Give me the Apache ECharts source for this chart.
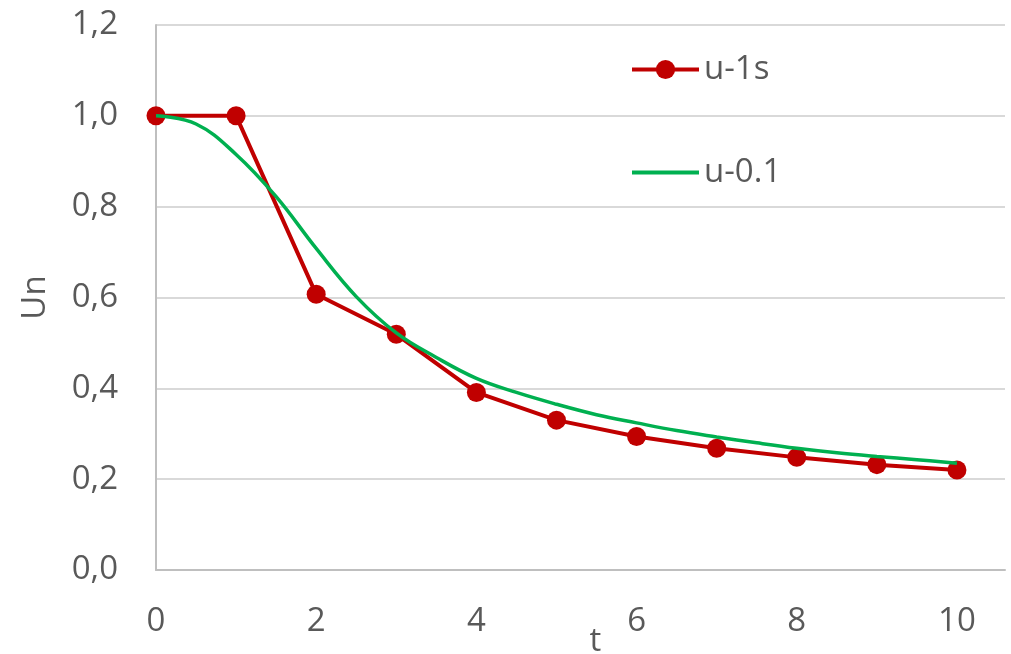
<!DOCTYPE html>
<html>
<head>
<meta charset="utf-8">
<script src="https://cdn.jsdelivr.net/npm/echarts@6/dist/echarts.min.js"></script>
<style>
html,body{margin:0;padding:0;background:#fff;}
#chart{width:1011px;height:654px;}
</style>
</head>
<body>
<div id="chart"></div>
<script>
// Series u-1s (step 1 s)
const t1 = [0, 1, 2, 3, 4, 5, 6, 7, 8, 9, 10];
const u1 = [1.0, 1.0, 0.607, 0.519, 0.391, 0.330, 0.294, 0.268, 0.248, 0.232, 0.220];
// Series u-0.1
const t2 = [0, 0.5, 1.0, 1.5, 2.0, 2.5, 3.0, 3.5, 4.0, 4.5, 5.0, 5.5, 6.0, 6.5, 7.0, 7.5, 8.0, 8.5, 9.0, 9.5, 10];
const u2 = [1.0, 0.982, 0.915, 0.822, 0.708, 0.602, 0.522, 0.468, 0.422, 0.391, 0.365, 0.342, 0.324, 0.307, 0.293, 0.280, 0.268, 0.258, 0.250, 0.243, 0.235];
const seriesNames = ['u-1s', 'u-0.1'];
const xName = 't';
const yName = 'Un';

const FONT = 'Open Sans';
const TXT = '#595959';
const FS = 33;

const chart = echarts.init(document.getElementById('chart'));
chart.setOption({
  animation: false,
  backgroundColor: '#fff',
  textStyle: { fontFamily: FONT },
  grid: { left: 156, right: 6, top: 25, bottom: 84, containLabel: false, outerBoundsMode: 'none' },
  legend: {
    orient: 'vertical',
    left: 625,
    top: 48,
    itemWidth: 67,
    itemHeight: 24,
    itemGap: 70,
    textStyle: { fontFamily: FONT, fontSize: FS, color: TXT },
    data: [
      { name: seriesNames[0], lineStyle: { width: 4 } },
      { name: seriesNames[1], lineStyle: { width: 4 }, itemStyle: { opacity: 0 } }
    ]
  },
  xAxis: {
    type: 'value',
    min: 0,
    max: 10.6,
    interval: 2,
    name: xName,
    nameLocation: 'middle',
    nameGap: 55,
    nameMoveOverlap: false,
    nameTextStyle: { fontFamily: FONT, fontSize: FS, color: TXT, padding: [0, 0, 0, 30] },
    axisLine: { show: true, lineStyle: { color: '#bfbfbf', width: 2 } },
    axisTick: { show: false },
    splitLine: { show: false },
    axisLabel: { fontFamily: FONT, fontSize: FS, color: TXT, margin: 35, showMaxLabel: false,
      formatter: v => (Math.abs(v - Math.round(v)) < 1e-9 ? String(Math.round(v)) : '') }
  },
  yAxis: {
    type: 'value',
    min: 0,
    max: 1.2,
    interval: 0.2,
    name: yName,
    nameLocation: 'middle',
    nameRotate: 90,
    nameGap: 104,
    nameMoveOverlap: false,
    nameTextStyle: { fontFamily: FONT, fontSize: FS, color: TXT },
    axisLine: { show: true, lineStyle: { color: '#bfbfbf', width: 2 } },
    axisTick: { show: false },
    splitLine: { show: true, lineStyle: { color: '#d9d9d9', width: 2 } },
    axisLabel: { fontFamily: FONT, fontSize: FS, color: TXT, margin: 38,
      formatter: v => v.toFixed(1).replace('.', ',') }
  },
  series: [
    {
      name: seriesNames[0],
      type: 'line',
      data: t1.map((t, i) => [t, u1[i]]),
      symbol: 'circle',
      symbolSize: 19,
      showSymbol: true,
      lineStyle: { color: '#c00000', width: 4 },
      itemStyle: { color: '#c00000' },
      z: 2
    },
    {
      name: seriesNames[1],
      type: 'line',
      data: t2.map((t, i) => [t, u2[i]]),
      symbol: 'none',
      smooth: 0.4,
      lineStyle: { color: '#00b050', width: 3.5 },
      itemStyle: { color: '#00b050' },
      z: 3
    }
  ]
});
</script>
</body>
</html>
